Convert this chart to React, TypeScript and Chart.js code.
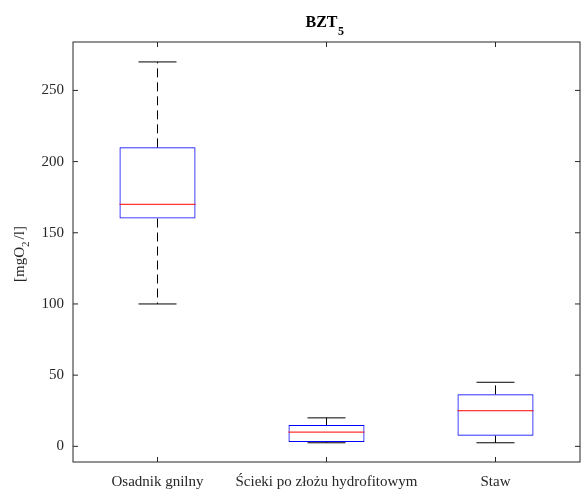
import React, { useEffect, useRef } from "react";
import { Chart, registerables } from "chart.js";

Chart.register(...registerables);

const categories = ["Osadnik gnilny", "Ścieki po złożu hydrofitowym", "Staw"];
const whiskerLow = [100, 2.5, 2.5];
const q1 = [160, 3, 7.5];
const median = [170, 10, 25];
const q3 = [210, 15, 36.5];
const whiskerHigh = [270, 20, 45];
const yTicks = [0, 50, 100, 150, 200, 250];
const yMin = -11;
const yMax = 284;

const FONT = "'Liberation Serif', 'Times New Roman', serif";
const AXIS_COLOR = "#262626";

const boxPlugin = {
  id: "boxExtras",
  afterDatasetsDraw(chart: any) {
    const ctx = chart.ctx;
    const x = chart.scales.x;
    const y = chart.scales.y;
    const meta = chart.getDatasetMeta(0);
    ctx.save();
    categories.forEach((_, i) => {
      const bar = meta.data[i];
      const cx = x.getPixelForValue(i);
      const bw = bar ? bar.width : 76;
      const capHalf = bw / 4;
      ctx.strokeStyle = "#000";
      ctx.lineWidth = 1;
      ctx.setLineDash([9, 5]);
      ctx.beginPath();
      ctx.moveTo(cx, y.getPixelForValue(q3[i]));
      ctx.lineTo(cx, y.getPixelForValue(whiskerHigh[i]));
      ctx.moveTo(cx, y.getPixelForValue(q1[i]));
      ctx.lineTo(cx, y.getPixelForValue(whiskerLow[i]));
      ctx.stroke();
      ctx.setLineDash([]);
      ctx.beginPath();
      const yh = y.getPixelForValue(whiskerHigh[i]);
      const yl = y.getPixelForValue(whiskerLow[i]);
      ctx.moveTo(cx - capHalf, yh);
      ctx.lineTo(cx + capHalf, yh);
      ctx.moveTo(cx - capHalf, yl);
      ctx.lineTo(cx + capHalf, yl);
      ctx.stroke();
      ctx.strokeStyle = "#ff0000";
      ctx.beginPath();
      const ym = y.getPixelForValue(median[i]);
      ctx.moveTo(cx - bw / 2, ym);
      ctx.lineTo(cx + bw / 2, ym);
      ctx.stroke();
    });
    ctx.restore();
  },
  afterDraw(chart: any) {
    const ctx = chart.ctx;
    const a = chart.chartArea;
    const x = chart.scales.x;
    const y = chart.scales.y;
    ctx.save();
    ctx.strokeStyle = AXIS_COLOR;
    ctx.lineWidth = 1;
    ctx.strokeRect(a.left, a.top, a.right - a.left, a.bottom - a.top);
    const tl = 5;
    ctx.beginPath();
    yTicks.forEach((v) => {
      const py = y.getPixelForValue(v);
      ctx.moveTo(a.left, py);
      ctx.lineTo(a.left + tl, py);
      ctx.moveTo(a.right, py);
      ctx.lineTo(a.right - tl, py);
    });
    categories.forEach((_, i) => {
      const px = x.getPixelForValue(i);
      ctx.moveTo(px, a.bottom);
      ctx.lineTo(px, a.bottom - tl);
      ctx.moveTo(px, a.top);
      ctx.lineTo(px, a.top + tl);
    });
    ctx.stroke();

    ctx.fillStyle = "#000";
    ctx.textBaseline = "alphabetic";
    ctx.textAlign = "left";
    const tMain = "BZT";
    const tSub = "5";
    ctx.font = `bold 16px ${FONT}`;
    const wMain = ctx.measureText(tMain).width;
    ctx.font = `bold 12px ${FONT}`;
    const wSub = ctx.measureText(tSub).width;
    const tcx = (a.left + a.right) / 2;
    const tx = tcx - (wMain + wSub) / 2 - 2;
    ctx.font = `bold 16px ${FONT}`;
    ctx.fillText(tMain, tx, 27);
    ctx.font = `bold 12px ${FONT}`;
    ctx.fillText(tSub, tx + wMain + 0.5, 35);

    ctx.fillStyle = AXIS_COLOR;
    const p1 = "[mgO";
    const p2 = "2";
    const p3 = "/l]";
    ctx.font = `15px ${FONT}`;
    const w1 = ctx.measureText(p1).width;
    const w3 = ctx.measureText(p3).width;
    ctx.font = `11px ${FONT}`;
    const w2 = ctx.measureText(p2).width + 2;
    const total = w1 + w2 + w3;
    ctx.translate(24, (a.top + a.bottom) / 2 + 2);
    ctx.rotate(-Math.PI / 2);
    let lx = -total / 2;
    ctx.font = `15px ${FONT}`;
    ctx.fillText(p1, lx, 0);
    lx += w1;
    ctx.font = `11px ${FONT}`;
    ctx.fillText(p2, lx, 5);
    lx += w2;
    ctx.font = `15px ${FONT}`;
    ctx.fillText(p3, lx, 0);
    ctx.restore();
  },
};

export default function App() {
  const ref = useRef<HTMLCanvasElement | null>(null);
  useEffect(() => {
    document.body.style.margin = "0";
    const canvas = ref.current;
    if (!canvas) return;
    const chart = new Chart(canvas, {
      type: "bar",
      data: {
        labels: categories,
        datasets: [
          {
            data: q1.map((v, i) => [v, q3[i]]) as any,
            backgroundColor: "rgba(0,0,0,0)",
            borderColor: "#0000ff",
            borderWidth: 1,
            borderSkipped: false,
            barPercentage: 0.45,
            categoryPercentage: 1,
          },
        ],
      },
      options: {
        responsive: false,
        animation: false,
        devicePixelRatio: 1,
        layout: { padding: { top: 42, right: 1, left: 0, bottom: 0 } },
        plugins: {
          legend: { display: false },
          tooltip: { enabled: false },
          title: { display: false },
        },
        scales: {
          x: {
            type: "category",
            offset: true,
            grid: { display: false, drawTicks: false },
            border: { display: false },
            ticks: {
              color: AXIS_COLOR,
              font: { family: FONT, size: 15 },
              padding: 11,
              maxRotation: 0,
              autoSkip: false,
            },
            afterFit: (s: any) => {
              s.height = 27;
            },
          },
          y: {
            type: "linear",
            min: yMin,
            max: yMax,
            grid: { display: false, drawTicks: false },
            border: { display: false },
            ticks: {
              color: AXIS_COLOR,
              font: { family: FONT, size: 15 },
              padding: 9,
            },
            afterBuildTicks: (s: any) => {
              s.ticks = yTicks.map((v) => ({ value: v }));
            },
            afterFit: (s: any) => {
              s.width = 73;
            },
          },
        },
      },
      plugins: [boxPlugin],
    });
    return () => chart.destroy();
  }, []);
  return (
    <div style={{ position: "absolute", left: 0, top: 0, width: 581, height: 489, background: "#fff" }}>
      <canvas ref={ref} width={581} height={489} />
    </div>
  );
}
